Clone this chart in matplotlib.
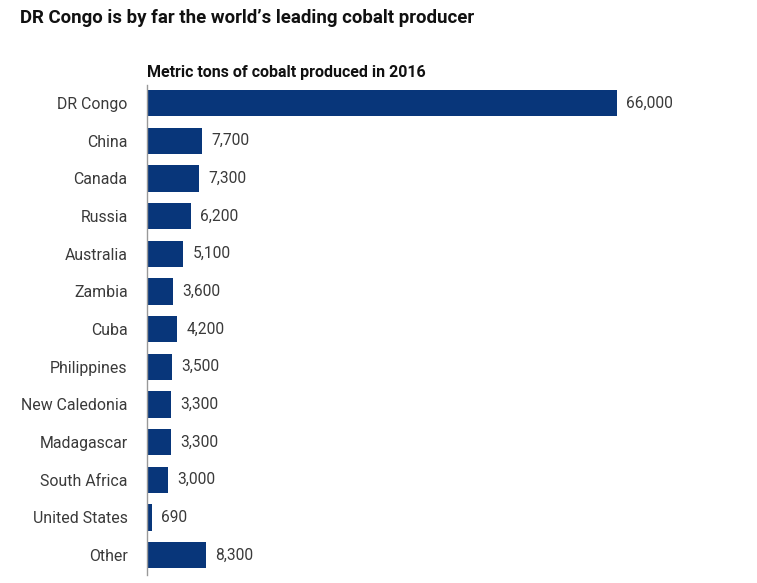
import matplotlib.pyplot as plt
import numpy as np

plt.rcParams['font.family'] = ['Roboto', 'DejaVu Sans']

countries = ['DR Congo', 'China', 'Canada', 'Russia', 'Australia', 'Zambia', 'Cuba',
             'Philippines', 'New Caledonia', 'Madagascar', 'South Africa',
             'United States', 'Other']
tons = [66000, 7700, 7300, 6200, 5100, 3600, 4200, 3500, 3300, 3300, 3000, 690, 8300]

W, H = 757, 583
fig = plt.figure(figsize=(W / 100, H / 100), dpi=100)
ax = fig.add_axes([147 / W, 1 - 575 / H, (617 - 147) / W, 490 / H])

y = np.arange(len(countries))
ax.barh(y, tons, height=0.7, color='#08367a')
ax.set_xlim(0, max(tons))
ax.set_ylim(len(countries) - 0.47, -0.48)

for yi, v in zip(y, tons):
    ax.text(v + 1300, yi, f'{v:,}', va='center', ha='left', fontsize=11.2,
            color='#3a3a3a', clip_on=False)

ax.set_yticks(y)
ax.set_yticklabels(countries, fontsize=11.4, color='#3a3a3a')
ax.tick_params(axis='y', length=0, pad=14)
ax.set_xticks([])
for s in ['top', 'right', 'bottom']:
    ax.spines[s].set_visible(False)
ax.spines['left'].set_color('#999999')
ax.spines['left'].set_linewidth(1)

fig.text(20 / W, 1 - 18 / H, 'DR Congo is by far the world\u2019s leading cobalt producer',
         fontsize=13.4, fontweight='bold', color='#111111', va='center', ha='left')
fig.text(147 / W, 1 - 72 / H, 'Metric tons of cobalt produced in 2016',
         fontsize=11.5, fontweight='bold', color='#111111', va='center', ha='left')

fig.savefig('out.png', dpi=100)
